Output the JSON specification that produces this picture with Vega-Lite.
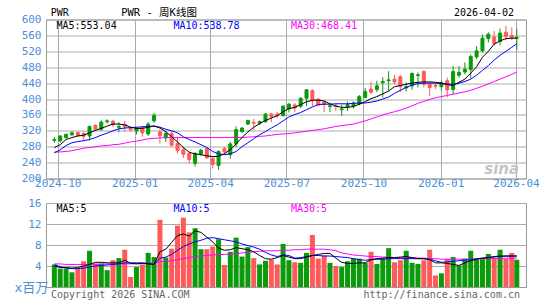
{
  "$schema": "https://vega.github.io/schema/vega-lite/v6.json",
  "padding": {"left": 13, "top": 6.5, "right": 0, "bottom": 0},
  "background": "white",
  "spacing": 24.5,
  "bounds": "flush",
  "config": {
    "view": {"stroke": "#999999", "strokeWidth": 1}
  },
  "datasets": {
    "k": [
      {"d":"2024-09-27","o":296,"h":305,"l":290,"c":298,"v":4.3,"m5":278,"m10":265,"m30":266,"v5":4.0,"v10":4.2,"v30":4.4},
      {"d":"2024-10-04","o":295,"h":308,"l":290,"c":307,"v":3.5,"m5":285,"m10":272,"m30":267,"v5":3.7,"v10":3.9,"v30":4.4},
      {"d":"2024-10-11","o":303,"h":313,"l":300,"c":311,"v":3.5,"m5":298,"m10":283,"m30":268,"v5":3.7,"v10":3.6,"v30":4.3},
      {"d":"2024-10-18","o":310,"h":318,"l":307,"c":315,"v":2.8,"m5":303,"m10":290,"m30":270,"v5":3.6,"v10":3.5,"v30":4.3},
      {"d":"2024-10-25","o":316,"h":318,"l":305,"c":308,"v":3.5,"m5":307,"m10":293,"m30":273,"v5":3.7,"v10":3.5,"v30":4.3},
      {"d":"2024-11-01","o":313,"h":318,"l":296,"c":306,"v":4.9,"m5":309,"m10":295,"m30":276,"v5":4.0,"v10":3.6,"v30":4.3},
      {"d":"2024-11-08","o":307,"h":333,"l":296,"c":331,"v":6.9,"m5":315,"m10":298,"m30":278,"v5":4.3,"v10":3.8,"v30":4.3},
      {"d":"2024-11-15","o":334,"h":336,"l":320,"c":324,"v":4.5,"m5":321,"m10":303,"m30":280,"v5":4.7,"v10":4.0,"v30":4.3},
      {"d":"2024-11-22","o":324,"h":346,"l":320,"c":342,"v":4.5,"m5":326,"m10":309,"m30":282,"v5":4.7,"v10":4.1,"v30":4.3},
      {"d":"2024-11-29","o":343,"h":349,"l":338,"c":345,"v":3.2,"m5":332,"m10":314,"m30":283,"v5":4.6,"v10":4.2,"v30":4.4},
      {"d":"2024-12-06","o":344,"h":347,"l":330,"c":335,"v":5.1,"m5":337,"m10":320,"m30":285,"v5":4.6,"v10":4.3,"v30":4.4},
      {"d":"2024-12-13","o":329,"h":342,"l":316,"c":331,"v":5.5,"m5":337,"m10":325,"m30":286,"v5":4.6,"v10":4.4,"v30":4.4},
      {"d":"2024-12-20","o":336,"h":345,"l":319,"c":330,"v":7.1,"m5":335,"m10":327,"m30":289,"v5":5.1,"v10":4.6,"v30":4.4},
      {"d":"2024-12-27","o":326,"h":330,"l":318,"c":323,"v":1.9,"m5":329,"m10":328,"m30":292,"v5":4.5,"v10":4.6,"v30":4.4},
      {"d":"2025-01-03","o":320,"h":329,"l":311,"c":327,"v":3.8,"m5":326,"m10":329,"m30":294,"v5":4.4,"v10":4.6,"v30":4.5},
      {"d":"2025-01-10","o":328,"h":332,"l":305,"c":315,"v":4.3,"m5":326,"m10":330,"m30":297,"v5":4.5,"v10":4.6,"v30":4.5},
      {"d":"2025-01-17","o":312,"h":342,"l":307,"c":337,"v":6.5,"m5":329,"m10":331,"m30":300,"v5":4.4,"v10":4.5,"v30":4.5},
      {"d":"2025-01-24","o":345,"h":365,"l":340,"c":359,"v":5.7,"m5":332,"m10":332,"m30":301,"v5":4.3,"v10":4.3,"v30":4.6},
      {"d":"2025-01-31","o":317,"h":323,"l":288,"c":307,"v":12.8,"m5":327,"m10":329,"m30":302,"v5":6.7,"v10":5.5,"v30":4.8},
      {"d":"2025-02-07","o":302,"h":320,"l":292,"c":313,"v":5.6,"m5":318,"m10":324,"m30":303,"v5":7.2,"v10":5.7,"v30":4.9},
      {"d":"2025-02-14","o":313,"h":319,"l":280,"c":284,"v":7.3,"m5":305,"m10":320,"m30":303,"v5":8.5,"v10":6.2,"v30":5.0},
      {"d":"2025-02-21","o":288,"h":305,"l":263,"c":270,"v":11.7,"m5":292,"m10":315,"m30":303,"v5":9.8,"v10":7.0,"v30":5.2},
      {"d":"2025-02-28","o":272,"h":280,"l":252,"c":261,"v":13.2,"m5":278,"m10":305,"m30":303,"v5":10.1,"v10":7.7,"v30":5.4},
      {"d":"2025-03-07","o":263,"h":266,"l":238,"c":248,"v":10.4,"m5":266,"m10":298,"m30":303,"v5":9.7,"v10":8.2,"v30":5.6},
      {"d":"2025-03-14","o":238,"h":266,"l":230,"c":263,"v":11.2,"m5":262,"m10":292,"m30":303,"v5":10.7,"v10":8.6,"v30":5.8},
      {"d":"2025-03-21","o":262,"h":275,"l":257,"c":271,"v":7.2,"m5":260,"m10":285,"m30":303,"v5":10.4,"v10":8.9,"v30":5.9},
      {"d":"2025-03-28","o":275,"h":279,"l":250,"c":252,"v":7.2,"m5":257,"m10":278,"m30":303,"v5":9.5,"v10":9.3,"v30":6.0},
      {"d":"2025-04-04","o":250,"h":257,"l":225,"c":235,"v":7.7,"m5":255,"m10":268,"m30":303,"v5":8.6,"v10":9.4,"v30":6.1},
      {"d":"2025-04-11","o":233,"h":271,"l":222,"c":268,"v":9.1,"m5":256,"m10":262,"m30":303,"v5":7.4,"v10":9.2,"v30":6.2},
      {"d":"2025-04-18","o":275,"h":279,"l":260,"c":267,"v":4.2,"m5":262,"m10":260,"m30":303,"v5":7.0,"v10":9.0,"v30":6.2},
      {"d":"2025-04-25","o":260,"h":292,"l":250,"c":287,"v":6.7,"m5":273,"m10":262,"m30":303,"v5":7.1,"v10":8.8,"v30":6.3},
      {"d":"2025-05-02","o":287,"h":331,"l":279,"c":323,"v":9.4,"m5":287,"m10":268,"m30":303,"v5":7.5,"v10":8.6,"v30":6.3},
      {"d":"2025-05-09","o":318,"h":329,"l":315,"c":327,"v":5.8,"m5":303,"m10":280,"m30":303,"v5":7.3,"v10":8.2,"v30":6.5},
      {"d":"2025-05-16","o":337,"h":348,"l":334,"c":346,"v":7.6,"m5":317,"m10":290,"m30":304,"v5":7.1,"v10":7.9,"v30":6.6},
      {"d":"2025-05-23","o":341,"h":350,"l":321,"c":339,"v":5.5,"m5":329,"m10":300,"m30":305,"v5":6.7,"v10":7.6,"v30":6.7},
      {"d":"2025-05-30","o":339,"h":346,"l":335,"c":343,"v":4.3,"m5":338,"m10":310,"m30":306,"v5":6.0,"v10":7.2,"v30":6.8},
      {"d":"2025-06-06","o":343,"h":365,"l":340,"c":362,"v":5.0,"m5":346,"m10":318,"m30":307,"v5":5.4,"v10":6.6,"v30":6.9},
      {"d":"2025-06-13","o":362,"h":365,"l":342,"c":355,"v":5.2,"m5":352,"m10":327,"m30":309,"v5":5.3,"v10":6.1,"v30":6.9},
      {"d":"2025-06-20","o":362,"h":367,"l":352,"c":358,"v":4.3,"m5":358,"m10":335,"m30":311,"v5":5.6,"v10":5.8,"v30":6.9},
      {"d":"2025-06-27","o":358,"h":384,"l":356,"c":382,"v":8.2,"m5":368,"m10":345,"m30":312,"v5":6.0,"v10":6.1,"v30":7.0},
      {"d":"2025-07-04","o":375,"h":390,"l":366,"c":387,"v":5.1,"m5":376,"m10":355,"m30":313,"v5":5.7,"v10":6.0,"v30":7.0},
      {"d":"2025-07-11","o":385,"h":390,"l":367,"c":377,"v":4.7,"m5":379,"m10":361,"m30":315,"v5":5.4,"v10":5.5,"v30":7.1},
      {"d":"2025-07-18","o":382,"h":404,"l":377,"c":402,"v":4.6,"m5":386,"m10":366,"m30":317,"v5":5.4,"v10":5.6,"v30":7.1},
      {"d":"2025-07-25","o":402,"h":425,"l":382,"c":423,"v":6.5,"m5":393,"m10":373,"m30":319,"v5":5.7,"v10":5.8,"v30":7.2},
      {"d":"2025-08-01","o":421,"h":425,"l":382,"c":396,"v":9.9,"m5":397,"m10":380,"m30":321,"v5":6.0,"v10":6.0,"v30":7.2},
      {"d":"2025-08-08","o":400,"h":402,"l":382,"c":385,"v":5.4,"m5":397,"m10":386,"m30":323,"v5":6.2,"v10":6.0,"v30":7.2},
      {"d":"2025-08-15","o":392,"h":396,"l":367,"c":386,"v":6.0,"m5":395,"m10":387,"m30":325,"v5":6.4,"v10":5.9,"v30":7.2},
      {"d":"2025-08-22","o":381,"h":388,"l":367,"c":383,"v":4.6,"m5":388,"m10":387,"m30":328,"v5":6.4,"v10":5.9,"v30":7.1},
      {"d":"2025-08-29","o":383,"h":388,"l":370,"c":381,"v":4.0,"m5":382,"m10":388,"m30":331,"v5":5.5,"v10":5.8,"v30":6.9},
      {"d":"2025-09-05","o":373,"h":386,"l":358,"c":375,"v":3.8,"m5":379,"m10":388,"m30":333,"v5":4.7,"v10":5.7,"v30":6.5},
      {"d":"2025-09-12","o":380,"h":394,"l":370,"c":386,"v":4.9,"m5":379,"m10":388,"m30":335,"v5":4.5,"v10":5.6,"v30":6.3},
      {"d":"2025-09-19","o":382,"h":394,"l":376,"c":390,"v":5.4,"m5":381,"m10":389,"m30":337,"v5":4.5,"v10":5.4,"v30":6.1},
      {"d":"2025-09-26","o":388,"h":410,"l":384,"c":406,"v":5.4,"m5":387,"m10":390,"m30":341,"v5":4.6,"v10":5.2,"v30":6.0},
      {"d":"2025-10-03","o":404,"h":428,"l":402,"c":419,"v":4.6,"m5":393,"m10":390,"m30":345,"v5":4.6,"v10":5.1,"v30":5.9},
      {"d":"2025-10-10","o":425,"h":443,"l":413,"c":417,"v":6.7,"m5":401,"m10":392,"m30":350,"v5":5.2,"v10":5.2,"v30":5.8},
      {"d":"2025-10-17","o":424,"h":446,"l":417,"c":433,"v":4.4,"m5":406,"m10":395,"m30":355,"v5":5.4,"v10":5.3,"v30":5.8},
      {"d":"2025-10-24","o":441,"h":455,"l":404,"c":444,"v":5.4,"m5":413,"m10":400,"m30":360,"v5":5.5,"v10":5.3,"v30":5.7},
      {"d":"2025-10-31","o":446,"h":470,"l":421,"c":448,"v":7.4,"m5":420,"m10":405,"m30":364,"v5":5.6,"v10":5.4,"v30":5.7},
      {"d":"2025-11-07","o":450,"h":460,"l":437,"c":443,"v":4.7,"m5":431,"m10":414,"m30":368,"v5":5.6,"v10":5.4,"v30":5.6},
      {"d":"2025-11-14","o":456,"h":460,"l":417,"c":431,"v":5.1,"m5":434,"m10":422,"m30":372,"v5":5.7,"v10":5.4,"v30":5.6},
      {"d":"2025-11-21","o":428,"h":442,"l":419,"c":431,"v":6.9,"m5":437,"m10":429,"m30":377,"v5":5.8,"v10":5.4,"v30":5.6},
      {"d":"2025-11-28","o":433,"h":467,"l":423,"c":464,"v":4.6,"m5":440,"m10":435,"m30":383,"v5":5.6,"v10":5.4,"v30":5.6},
      {"d":"2025-12-05","o":459,"h":467,"l":429,"c":461,"v":4.4,"m5":442,"m10":439,"m30":389,"v5":5.4,"v10":5.4,"v30":5.5},
      {"d":"2025-12-12","o":469,"h":472,"l":429,"c":437,"v":5.1,"m5":443,"m10":440,"m30":394,"v5":5.4,"v10":5.4,"v30":5.5},
      {"d":"2025-12-19","o":437,"h":442,"l":408,"c":429,"v":7.1,"m5":443,"m10":440,"m30":399,"v5":5.2,"v10":5.3,"v30":5.4},
      {"d":"2025-12-26","o":434,"h":442,"l":425,"c":432,"v":2.2,"m5":442,"m10":440,"m30":403,"v5":4.6,"v10":5.0,"v30":5.4},
      {"d":"2026-01-02","o":431,"h":446,"l":421,"c":441,"v":2.6,"m5":440,"m10":439,"m30":406,"v5":4.6,"v10":4.7,"v30":5.3},
      {"d":"2026-01-09","o":446,"h":454,"l":404,"c":423,"v":5.3,"m5":436,"m10":438,"m30":409,"v5":4.5,"v10":4.8,"v30":5.3},
      {"d":"2026-01-16","o":424,"h":483,"l":412,"c":469,"v":5.7,"m5":434,"m10":437,"m30":412,"v5":4.3,"v10":4.9,"v30":5.3},
      {"d":"2026-01-23","o":460,"h":483,"l":454,"c":467,"v":4.1,"m5":442,"m10":440,"m30":415,"v5":4.1,"v10":5.0,"v30":5.3},
      {"d":"2026-01-30","o":468,"h":492,"l":462,"c":475,"v":5.4,"m5":450,"m10":444,"m30":418,"v5":4.6,"v10":5.1,"v30":5.3},
      {"d":"2026-02-06","o":474,"h":512,"l":452,"c":507,"v":6.9,"m5":465,"m10":450,"m30":422,"v5":5.0,"v10":5.2,"v30":5.3},
      {"d":"2026-02-13","o":506,"h":533,"l":500,"c":521,"v":5.3,"m5":481,"m10":460,"m30":427,"v5":5.3,"v10":5.4,"v30":5.3},
      {"d":"2026-02-20","o":521,"h":562,"l":517,"c":553,"v":5.3,"m5":505,"m10":472,"m30":432,"v5":5.5,"v10":5.5,"v30":5.4},
      {"d":"2026-02-27","o":552,"h":568,"l":542,"c":563,"v":6.3,"m5":520,"m10":484,"m30":438,"v5":5.6,"v10":5.6,"v30":5.4},
      {"d":"2026-03-06","o":556,"h":571,"l":535,"c":540,"v":5.5,"m5":538,"m10":498,"m30":444,"v5":5.8,"v10":5.7,"v30":5.4},
      {"d":"2026-03-13","o":545,"h":577,"l":535,"c":566,"v":7.1,"m5":546,"m10":510,"m30":450,"v5":5.9,"v10":5.8,"v30":5.4},
      {"d":"2026-03-20","o":568,"h":584,"l":548,"c":557,"v":5.4,"m5":552,"m10":520,"m30":456,"v5":5.9,"v10":5.9,"v30":5.5},
      {"d":"2026-03-27","o":560,"h":580,"l":548,"c":554,"v":6.5,"m5":553,"m10":530,"m30":462,"v5":5.9,"v10":5.9,"v30":5.5},
      {"d":"2026-04-02","o":553,"h":577,"l":523,"c":555,"v":5.2,"m5":553,"m10":539,"m30":468,"v5":5.9,"v10":5.9,"v30":5.5}
    ]
  },
  "vconcat": [
    {
      "width": 480,
      "height": 159,
      "layer": [
        {
          "data": {"name": "k"},
          "mark": {"type": "rule", "strokeWidth": 1},
          "encoding": {
            "x": {"field": "d", "type": "temporal", "scale": {"type": "utc", "domain": [{"year":2024,"month":9,"date":23,"utc":true}, {"year":2026,"month":4,"date":7,"utc":true}]}, "axis": {"values": [{"year":2024,"month":10,"date":1,"utc":true},{"year":2025,"month":1,"date":1,"utc":true},{"year":2025,"month":4,"date":1,"utc":true},{"year":2025,"month":7,"date":1,"utc":true},{"year":2025,"month":10,"date":1,"utc":true},{"year":2026,"month":1,"date":1,"utc":true},{"year":2026,"month":4,"date":1,"utc":true}], "format": "%Y-%m", "grid": true, "gridColor": "#aaaaaa", "ticks": false, "domain": false, "labelFlush": false, "labelOverlap": false, "labelPadding": 5, "labelBaseline": "middle", "labelFont": "DejaVu Sans Mono", "labelFontSize": 11, "labelColor": "#4a90d9", "title": null}},
            "y": {"field": "l", "type": "quantitative", "scale": {"domain": [200, 600], "nice": false, "zero": false}, "axis": {"values": [200,240,280,320,360,400,440,480,520,560,600], "grid": true, "gridColor": "#aaaaaa", "ticks": false, "domain": false, "labelOverlap": false, "labelPadding": 5, "labelFont": "DejaVu Sans Mono", "labelFontSize": 11, "labelColor": "#4a90d9", "title": null}},
            "y2": {"field": "h"},
            "color": {"condition": {"test": "datum.c >= datum.o", "value": "#0a9a0a"}, "value": "#ff5a5a"}
          }
        },
        {
          "data": {"name": "k"},
          "mark": {"type": "bar", "size": 3, "strokeWidth": 1},
          "encoding": {
            "x": {"field": "d", "type": "temporal", "scale": {"type": "utc", "domain": [{"year":2024,"month":9,"date":23,"utc":true}, {"year":2026,"month":4,"date":7,"utc":true}]}, "axis": {"values": [{"year":2024,"month":10,"date":1,"utc":true},{"year":2025,"month":1,"date":1,"utc":true},{"year":2025,"month":4,"date":1,"utc":true},{"year":2025,"month":7,"date":1,"utc":true},{"year":2025,"month":10,"date":1,"utc":true},{"year":2026,"month":1,"date":1,"utc":true},{"year":2026,"month":4,"date":1,"utc":true}], "format": "%Y-%m", "grid": true, "gridColor": "#aaaaaa", "ticks": false, "domain": false, "labelFlush": false, "labelOverlap": false, "labelPadding": 5, "labelBaseline": "middle", "labelFont": "DejaVu Sans Mono", "labelFontSize": 11, "labelColor": "#4a90d9", "title": null}},
            "y": {"field": "o", "type": "quantitative", "scale": {"domain": [200, 600], "nice": false, "zero": false}, "axis": {"values": [200,240,280,320,360,400,440,480,520,560,600], "grid": true, "gridColor": "#aaaaaa", "ticks": false, "domain": false, "labelOverlap": false, "labelPadding": 5, "labelFont": "DejaVu Sans Mono", "labelFontSize": 11, "labelColor": "#4a90d9", "title": null}},
            "y2": {"field": "c"},
            "color": {"condition": {"test": "datum.c >= datum.o", "value": "#0a9a0a"}, "value": "#ff5a5a"},
            "stroke": {"condition": {"test": "datum.c >= datum.o", "value": "#0a9a0a"}, "value": "#ff5a5a"}
          }
        },
        {
          "data": {"name": "k"},
          "mark": {"type": "line", "color": "#ff00ff", "strokeWidth": 1},
          "encoding": {
            "x": {"field": "d", "type": "temporal", "scale": {"type": "utc", "domain": [{"year":2024,"month":9,"date":23,"utc":true}, {"year":2026,"month":4,"date":7,"utc":true}]}, "axis": {"values": [{"year":2024,"month":10,"date":1,"utc":true},{"year":2025,"month":1,"date":1,"utc":true},{"year":2025,"month":4,"date":1,"utc":true},{"year":2025,"month":7,"date":1,"utc":true},{"year":2025,"month":10,"date":1,"utc":true},{"year":2026,"month":1,"date":1,"utc":true},{"year":2026,"month":4,"date":1,"utc":true}], "format": "%Y-%m", "grid": true, "gridColor": "#aaaaaa", "ticks": false, "domain": false, "labelFlush": false, "labelOverlap": false, "labelPadding": 5, "labelBaseline": "middle", "labelFont": "DejaVu Sans Mono", "labelFontSize": 11, "labelColor": "#4a90d9", "title": null}},
            "y": {"field": "m30", "type": "quantitative", "scale": {"domain": [200, 600], "nice": false, "zero": false}, "axis": {"values": [200,240,280,320,360,400,440,480,520,560,600], "grid": true, "gridColor": "#aaaaaa", "ticks": false, "domain": false, "labelOverlap": false, "labelPadding": 5, "labelFont": "DejaVu Sans Mono", "labelFontSize": 11, "labelColor": "#4a90d9", "title": null}}
          }
        },
        {
          "data": {"name": "k"},
          "mark": {"type": "line", "color": "#0000ff", "strokeWidth": 1},
          "encoding": {
            "x": {"field": "d", "type": "temporal", "scale": {"type": "utc", "domain": [{"year":2024,"month":9,"date":23,"utc":true}, {"year":2026,"month":4,"date":7,"utc":true}]}, "axis": {"values": [{"year":2024,"month":10,"date":1,"utc":true},{"year":2025,"month":1,"date":1,"utc":true},{"year":2025,"month":4,"date":1,"utc":true},{"year":2025,"month":7,"date":1,"utc":true},{"year":2025,"month":10,"date":1,"utc":true},{"year":2026,"month":1,"date":1,"utc":true},{"year":2026,"month":4,"date":1,"utc":true}], "format": "%Y-%m", "grid": true, "gridColor": "#aaaaaa", "ticks": false, "domain": false, "labelFlush": false, "labelOverlap": false, "labelPadding": 5, "labelBaseline": "middle", "labelFont": "DejaVu Sans Mono", "labelFontSize": 11, "labelColor": "#4a90d9", "title": null}},
            "y": {"field": "m10", "type": "quantitative", "scale": {"domain": [200, 600], "nice": false, "zero": false}, "axis": {"values": [200,240,280,320,360,400,440,480,520,560,600], "grid": true, "gridColor": "#aaaaaa", "ticks": false, "domain": false, "labelOverlap": false, "labelPadding": 5, "labelFont": "DejaVu Sans Mono", "labelFontSize": 11, "labelColor": "#4a90d9", "title": null}}
          }
        },
        {
          "data": {"name": "k"},
          "mark": {"type": "line", "color": "#000000", "strokeWidth": 1},
          "encoding": {
            "x": {"field": "d", "type": "temporal", "scale": {"type": "utc", "domain": [{"year":2024,"month":9,"date":23,"utc":true}, {"year":2026,"month":4,"date":7,"utc":true}]}, "axis": {"values": [{"year":2024,"month":10,"date":1,"utc":true},{"year":2025,"month":1,"date":1,"utc":true},{"year":2025,"month":4,"date":1,"utc":true},{"year":2025,"month":7,"date":1,"utc":true},{"year":2025,"month":10,"date":1,"utc":true},{"year":2026,"month":1,"date":1,"utc":true},{"year":2026,"month":4,"date":1,"utc":true}], "format": "%Y-%m", "grid": true, "gridColor": "#aaaaaa", "ticks": false, "domain": false, "labelFlush": false, "labelOverlap": false, "labelPadding": 5, "labelBaseline": "middle", "labelFont": "DejaVu Sans Mono", "labelFontSize": 11, "labelColor": "#4a90d9", "title": null}},
            "y": {"field": "m5", "type": "quantitative", "scale": {"domain": [200, 600], "nice": false, "zero": false}, "axis": {"values": [200,240,280,320,360,400,440,480,520,560,600], "grid": true, "gridColor": "#aaaaaa", "ticks": false, "domain": false, "labelOverlap": false, "labelPadding": 5, "labelFont": "DejaVu Sans Mono", "labelFontSize": 11, "labelColor": "#4a90d9", "title": null}}
          }
        },
        {
          "data": {"values": [{"t": "MA5:553.04", "g": "MA5", "p": "left"}, {"t": "MA10:538.78", "g": "MA10", "p": "mid"}, {"t": "MA30:468.41", "g": "MA30", "p": "right"}, {"t": "PWR", "g": "title", "p": "tl"}, {"t": "PWR - 周K线图", "g": "title", "p": "tc"}, {"t": "2026-04-02", "g": "title", "p": "tr"}]},
          "transform": [{"filter": "datum.p == 'left'"}],
          "mark": {"type": "text", "align": "left", "baseline": "middle", "font": "DejaVu Sans Mono", "fontSize": 10, "color": "#000000"},
          "encoding": {
            "text": {"field": "t"},
            "x": {"datum": {"year":2024,"month":9,"date":29,"hours":12,"utc":true}, "type": "temporal", "scale": {"type": "utc", "domain": [{"year":2024,"month":9,"date":23,"utc":true}, {"year":2026,"month":4,"date":7,"utc":true}]}, "axis": {"values": [{"year":2024,"month":10,"date":1,"utc":true},{"year":2025,"month":1,"date":1,"utc":true},{"year":2025,"month":4,"date":1,"utc":true},{"year":2025,"month":7,"date":1,"utc":true},{"year":2025,"month":10,"date":1,"utc":true},{"year":2026,"month":1,"date":1,"utc":true},{"year":2026,"month":4,"date":1,"utc":true}], "format": "%Y-%m", "grid": true, "gridColor": "#aaaaaa", "ticks": false, "domain": false, "labelFlush": false, "labelOverlap": false, "labelPadding": 5, "labelBaseline": "middle", "labelFont": "DejaVu Sans Mono", "labelFontSize": 11, "labelColor": "#4a90d9", "title": null}},
            "y": {"datum": 583, "type": "quantitative", "scale": {"domain": [200, 600], "nice": false, "zero": false}, "axis": {"values": [200,240,280,320,360,400,440,480,520,560,600], "grid": true, "gridColor": "#aaaaaa", "ticks": false, "domain": false, "labelOverlap": false, "labelPadding": 5, "labelFont": "DejaVu Sans Mono", "labelFontSize": 11, "labelColor": "#4a90d9", "title": null}}
          }
        },
        {
          "data": {"values": [{"t": "MA10:538.78"}]},
          "mark": {"type": "text", "align": "left", "baseline": "middle", "font": "DejaVu Sans Mono", "fontSize": 10, "color": "#0000ff"},
          "encoding": {
            "text": {"field": "t"},
            "x": {"datum": {"year":2025,"month":2,"date":16,"hours":2,"utc":true}, "type": "temporal", "scale": {"type": "utc", "domain": [{"year":2024,"month":9,"date":23,"utc":true}, {"year":2026,"month":4,"date":7,"utc":true}]}, "axis": {"values": [{"year":2024,"month":10,"date":1,"utc":true},{"year":2025,"month":1,"date":1,"utc":true},{"year":2025,"month":4,"date":1,"utc":true},{"year":2025,"month":7,"date":1,"utc":true},{"year":2025,"month":10,"date":1,"utc":true},{"year":2026,"month":1,"date":1,"utc":true},{"year":2026,"month":4,"date":1,"utc":true}], "format": "%Y-%m", "grid": true, "gridColor": "#aaaaaa", "ticks": false, "domain": false, "labelFlush": false, "labelOverlap": false, "labelPadding": 5, "labelBaseline": "middle", "labelFont": "DejaVu Sans Mono", "labelFontSize": 11, "labelColor": "#4a90d9", "title": null}},
            "y": {"datum": 583, "type": "quantitative", "scale": {"domain": [200, 600], "nice": false, "zero": false}, "axis": {"values": [200,240,280,320,360,400,440,480,520,560,600], "grid": true, "gridColor": "#aaaaaa", "ticks": false, "domain": false, "labelOverlap": false, "labelPadding": 5, "labelFont": "DejaVu Sans Mono", "labelFontSize": 11, "labelColor": "#4a90d9", "title": null}}
          }
        },
        {
          "data": {"values": [{"t": "MA30:468.41"}]},
          "mark": {"type": "text", "align": "left", "baseline": "middle", "font": "DejaVu Sans Mono", "fontSize": 10, "color": "#ff00ff"},
          "encoding": {
            "text": {"field": "t"},
            "x": {"datum": {"year":2025,"month":7,"date":6,"hours":9,"utc":true}, "type": "temporal", "scale": {"type": "utc", "domain": [{"year":2024,"month":9,"date":23,"utc":true}, {"year":2026,"month":4,"date":7,"utc":true}]}, "axis": {"values": [{"year":2024,"month":10,"date":1,"utc":true},{"year":2025,"month":1,"date":1,"utc":true},{"year":2025,"month":4,"date":1,"utc":true},{"year":2025,"month":7,"date":1,"utc":true},{"year":2025,"month":10,"date":1,"utc":true},{"year":2026,"month":1,"date":1,"utc":true},{"year":2026,"month":4,"date":1,"utc":true}], "format": "%Y-%m", "grid": true, "gridColor": "#aaaaaa", "ticks": false, "domain": false, "labelFlush": false, "labelOverlap": false, "labelPadding": 5, "labelBaseline": "middle", "labelFont": "DejaVu Sans Mono", "labelFontSize": 11, "labelColor": "#4a90d9", "title": null}},
            "y": {"datum": 583, "type": "quantitative", "scale": {"domain": [200, 600], "nice": false, "zero": false}, "axis": {"values": [200,240,280,320,360,400,440,480,520,560,600], "grid": true, "gridColor": "#aaaaaa", "ticks": false, "domain": false, "labelOverlap": false, "labelPadding": 5, "labelFont": "DejaVu Sans Mono", "labelFontSize": 11, "labelColor": "#4a90d9", "title": null}}
          }
        },
        {
          "data": {"values": [{"t": "PWR"}]},
          "mark": {"type": "text", "align": "left", "baseline": "middle", "font": "DejaVu Sans Mono", "fontSize": 10, "color": "#000000"},
          "encoding": {
            "text": {"field": "t"},
            "x": {"datum": {"year":2024,"month":9,"date":22,"hours":16,"utc":true}, "type": "temporal", "scale": {"type": "utc", "domain": [{"year":2024,"month":9,"date":23,"utc":true}, {"year":2026,"month":4,"date":7,"utc":true}]}, "axis": {"values": [{"year":2024,"month":10,"date":1,"utc":true},{"year":2025,"month":1,"date":1,"utc":true},{"year":2025,"month":4,"date":1,"utc":true},{"year":2025,"month":7,"date":1,"utc":true},{"year":2025,"month":10,"date":1,"utc":true},{"year":2026,"month":1,"date":1,"utc":true},{"year":2026,"month":4,"date":1,"utc":true}], "format": "%Y-%m", "grid": true, "gridColor": "#aaaaaa", "ticks": false, "domain": false, "labelFlush": false, "labelOverlap": false, "labelPadding": 5, "labelBaseline": "middle", "labelFont": "DejaVu Sans Mono", "labelFontSize": 11, "labelColor": "#4a90d9", "title": null}},
            "y": {"datum": 616.4, "type": "quantitative", "scale": {"domain": [200, 600], "nice": false, "zero": false}, "axis": {"values": [200,240,280,320,360,400,440,480,520,560,600], "grid": true, "gridColor": "#aaaaaa", "ticks": false, "domain": false, "labelOverlap": false, "labelPadding": 5, "labelFont": "DejaVu Sans Mono", "labelFontSize": 11, "labelColor": "#4a90d9", "title": null}}
          }
        },
        {
          "data": {"values": [{"t": "PWR - 周K线图"}]},
          "mark": {"type": "text", "align": "left", "baseline": "middle", "font": "DejaVu Sans Mono, Noto Sans CJK SC", "fontSize": 10.5, "color": "#000000"},
          "encoding": {
            "text": {"field": "t"},
            "x": {"datum": {"year":2024,"month":12,"date":15,"hours":17,"utc":true}, "type": "temporal", "scale": {"type": "utc", "domain": [{"year":2024,"month":9,"date":23,"utc":true}, {"year":2026,"month":4,"date":7,"utc":true}]}, "axis": {"values": [{"year":2024,"month":10,"date":1,"utc":true},{"year":2025,"month":1,"date":1,"utc":true},{"year":2025,"month":4,"date":1,"utc":true},{"year":2025,"month":7,"date":1,"utc":true},{"year":2025,"month":10,"date":1,"utc":true},{"year":2026,"month":1,"date":1,"utc":true},{"year":2026,"month":4,"date":1,"utc":true}], "format": "%Y-%m", "grid": true, "gridColor": "#aaaaaa", "ticks": false, "domain": false, "labelFlush": false, "labelOverlap": false, "labelPadding": 5, "labelBaseline": "middle", "labelFont": "DejaVu Sans Mono", "labelFontSize": 11, "labelColor": "#4a90d9", "title": null}},
            "y": {"datum": 616.4, "type": "quantitative", "scale": {"domain": [200, 600], "nice": false, "zero": false}, "axis": {"values": [200,240,280,320,360,400,440,480,520,560,600], "grid": true, "gridColor": "#aaaaaa", "ticks": false, "domain": false, "labelOverlap": false, "labelPadding": 5, "labelFont": "DejaVu Sans Mono", "labelFontSize": 11, "labelColor": "#4a90d9", "title": null}}
          }
        },
        {
          "data": {"values": [{"t": "2026-04-02"}]},
          "mark": {"type": "text", "align": "right", "baseline": "middle", "font": "DejaVu Sans Mono", "fontSize": 10, "color": "#000000"},
          "encoding": {
            "text": {"field": "t"},
            "x": {"datum": {"year":2026,"month":3,"date":29,"hours":19,"utc":true}, "type": "temporal", "scale": {"type": "utc", "domain": [{"year":2024,"month":9,"date":23,"utc":true}, {"year":2026,"month":4,"date":7,"utc":true}]}, "axis": {"values": [{"year":2024,"month":10,"date":1,"utc":true},{"year":2025,"month":1,"date":1,"utc":true},{"year":2025,"month":4,"date":1,"utc":true},{"year":2025,"month":7,"date":1,"utc":true},{"year":2025,"month":10,"date":1,"utc":true},{"year":2026,"month":1,"date":1,"utc":true},{"year":2026,"month":4,"date":1,"utc":true}], "format": "%Y-%m", "grid": true, "gridColor": "#aaaaaa", "ticks": false, "domain": false, "labelFlush": false, "labelOverlap": false, "labelPadding": 5, "labelBaseline": "middle", "labelFont": "DejaVu Sans Mono", "labelFontSize": 11, "labelColor": "#4a90d9", "title": null}},
            "y": {"datum": 616.4, "type": "quantitative", "scale": {"domain": [200, 600], "nice": false, "zero": false}, "axis": {"values": [200,240,280,320,360,400,440,480,520,560,600], "grid": true, "gridColor": "#aaaaaa", "ticks": false, "domain": false, "labelOverlap": false, "labelPadding": 5, "labelFont": "DejaVu Sans Mono", "labelFontSize": 11, "labelColor": "#4a90d9", "title": null}}
          }
        },
        {
          "data": {"values": [{"t": "sina"}]},
          "mark": {"type": "text", "align": "right", "baseline": "middle", "font": "DejaVu Sans", "fontSize": 15, "fontStyle": "italic", "fontWeight": "bold", "color": "#c4c4c4"},
          "encoding": {
            "text": {"field": "t"},
            "x": {"datum": {"year":2026,"month":4,"date":4,"hours":17,"utc":true}, "type": "temporal", "scale": {"type": "utc", "domain": [{"year":2024,"month":9,"date":23,"utc":true}, {"year":2026,"month":4,"date":7,"utc":true}]}, "axis": {"values": [{"year":2024,"month":10,"date":1,"utc":true},{"year":2025,"month":1,"date":1,"utc":true},{"year":2025,"month":4,"date":1,"utc":true},{"year":2025,"month":7,"date":1,"utc":true},{"year":2025,"month":10,"date":1,"utc":true},{"year":2026,"month":1,"date":1,"utc":true},{"year":2026,"month":4,"date":1,"utc":true}], "format": "%Y-%m", "grid": true, "gridColor": "#aaaaaa", "ticks": false, "domain": false, "labelFlush": false, "labelOverlap": false, "labelPadding": 5, "labelBaseline": "middle", "labelFont": "DejaVu Sans Mono", "labelFontSize": 11, "labelColor": "#4a90d9", "title": null}},
            "y": {"datum": 225, "type": "quantitative", "scale": {"domain": [200, 600], "nice": false, "zero": false}, "axis": {"values": [200,240,280,320,360,400,440,480,520,560,600], "grid": true, "gridColor": "#aaaaaa", "ticks": false, "domain": false, "labelOverlap": false, "labelPadding": 5, "labelFont": "DejaVu Sans Mono", "labelFontSize": 11, "labelColor": "#4a90d9", "title": null}}
          }
        }
      ]
    },
    {
      "width": 480,
      "height": 84,
      "layer": [
        {
          "data": {"name": "k"},
          "mark": {"type": "bar", "size": 5},
          "encoding": {
            "x": {"field": "d", "type": "temporal", "scale": {"type": "utc", "domain": [{"year":2024,"month":9,"date":23,"utc":true}, {"year":2026,"month":4,"date":7,"utc":true}]}, "axis": null},
            "y": {"field": "v", "type": "quantitative", "scale": {"domain": [0, 16], "nice": false}, "axis": {"values": [4, 8, 12, 16], "grid": true, "gridColor": "#aaaaaa", "ticks": false, "domain": false, "labelOverlap": false, "labelPadding": 5, "labelFont": "DejaVu Sans Mono", "labelFontSize": 11, "labelColor": "#4a90d9", "title": null}},
            "color": {"condition": {"test": "datum.c >= datum.o", "value": "#0a9a0a"}, "value": "#ff5a5a"}
          }
        },
        {
          "data": {"name": "k"},
          "mark": {"type": "line", "color": "#ff00ff", "strokeWidth": 1},
          "encoding": {
            "x": {"field": "d", "type": "temporal", "scale": {"type": "utc", "domain": [{"year":2024,"month":9,"date":23,"utc":true}, {"year":2026,"month":4,"date":7,"utc":true}]}, "axis": null},
            "y": {"field": "v30", "type": "quantitative", "scale": {"domain": [0, 16], "nice": false}, "axis": {"values": [4, 8, 12, 16], "grid": true, "gridColor": "#aaaaaa", "ticks": false, "domain": false, "labelOverlap": false, "labelPadding": 5, "labelFont": "DejaVu Sans Mono", "labelFontSize": 11, "labelColor": "#4a90d9", "title": null}}
          }
        },
        {
          "data": {"name": "k"},
          "mark": {"type": "line", "color": "#0000ff", "strokeWidth": 1},
          "encoding": {
            "x": {"field": "d", "type": "temporal", "scale": {"type": "utc", "domain": [{"year":2024,"month":9,"date":23,"utc":true}, {"year":2026,"month":4,"date":7,"utc":true}]}, "axis": null},
            "y": {"field": "v10", "type": "quantitative", "scale": {"domain": [0, 16], "nice": false}, "axis": {"values": [4, 8, 12, 16], "grid": true, "gridColor": "#aaaaaa", "ticks": false, "domain": false, "labelOverlap": false, "labelPadding": 5, "labelFont": "DejaVu Sans Mono", "labelFontSize": 11, "labelColor": "#4a90d9", "title": null}}
          }
        },
        {
          "data": {"name": "k"},
          "mark": {"type": "line", "color": "#000000", "strokeWidth": 1},
          "encoding": {
            "x": {"field": "d", "type": "temporal", "scale": {"type": "utc", "domain": [{"year":2024,"month":9,"date":23,"utc":true}, {"year":2026,"month":4,"date":7,"utc":true}]}, "axis": null},
            "y": {"field": "v5", "type": "quantitative", "scale": {"domain": [0, 16], "nice": false}, "axis": {"values": [4, 8, 12, 16], "grid": true, "gridColor": "#aaaaaa", "ticks": false, "domain": false, "labelOverlap": false, "labelPadding": 5, "labelFont": "DejaVu Sans Mono", "labelFontSize": 11, "labelColor": "#4a90d9", "title": null}}
          }
        },
        {
          "data": {"values": [{"t": "MA5:5"}]},
          "mark": {"type": "text", "align": "left", "baseline": "middle", "font": "DejaVu Sans Mono", "fontSize": 10, "color": "#000000"},
          "encoding": {
            "text": {"field": "t"},
            "x": {"datum": {"year":2024,"month":9,"date":29,"hours":12,"utc":true}, "type": "temporal", "scale": {"type": "utc", "domain": [{"year":2024,"month":9,"date":23,"utc":true}, {"year":2026,"month":4,"date":7,"utc":true}]}, "axis": null},
            "y": {"datum": 14.9, "type": "quantitative", "scale": {"domain": [0, 16], "nice": false}, "axis": {"values": [4, 8, 12, 16], "grid": true, "gridColor": "#aaaaaa", "ticks": false, "domain": false, "labelOverlap": false, "labelPadding": 5, "labelFont": "DejaVu Sans Mono", "labelFontSize": 11, "labelColor": "#4a90d9", "title": null}}
          }
        },
        {
          "data": {"values": [{"t": "MA10:5"}]},
          "mark": {"type": "text", "align": "left", "baseline": "middle", "font": "DejaVu Sans Mono", "fontSize": 10, "color": "#0000ff"},
          "encoding": {
            "text": {"field": "t"},
            "x": {"datum": {"year":2025,"month":2,"date":16,"hours":2,"utc":true}, "type": "temporal", "scale": {"type": "utc", "domain": [{"year":2024,"month":9,"date":23,"utc":true}, {"year":2026,"month":4,"date":7,"utc":true}]}, "axis": null},
            "y": {"datum": 14.9, "type": "quantitative", "scale": {"domain": [0, 16], "nice": false}, "axis": {"values": [4, 8, 12, 16], "grid": true, "gridColor": "#aaaaaa", "ticks": false, "domain": false, "labelOverlap": false, "labelPadding": 5, "labelFont": "DejaVu Sans Mono", "labelFontSize": 11, "labelColor": "#4a90d9", "title": null}}
          }
        },
        {
          "data": {"values": [{"t": "MA30:5"}]},
          "mark": {"type": "text", "align": "left", "baseline": "middle", "font": "DejaVu Sans Mono", "fontSize": 10, "color": "#ff00ff"},
          "encoding": {
            "text": {"field": "t"},
            "x": {"datum": {"year":2025,"month":7,"date":6,"hours":9,"utc":true}, "type": "temporal", "scale": {"type": "utc", "domain": [{"year":2024,"month":9,"date":23,"utc":true}, {"year":2026,"month":4,"date":7,"utc":true}]}, "axis": null},
            "y": {"datum": 14.9, "type": "quantitative", "scale": {"domain": [0, 16], "nice": false}, "axis": {"values": [4, 8, 12, 16], "grid": true, "gridColor": "#aaaaaa", "ticks": false, "domain": false, "labelOverlap": false, "labelPadding": 5, "labelFont": "DejaVu Sans Mono", "labelFontSize": 11, "labelColor": "#4a90d9", "title": null}}
          }
        },
        {
          "data": {"values": [{"t": "x百万"}]},
          "mark": {"type": "text", "align": "left", "baseline": "middle", "font": "DejaVu Sans Mono, Noto Sans CJK SC", "fontSize": 13, "color": "#4a90d9"},
          "encoding": {
            "text": {"field": "t"},
            "x": {"datum": {"year":2024,"month":8,"date":10,"hours":10,"utc":true}, "type": "temporal", "scale": {"type": "utc", "domain": [{"year":2024,"month":9,"date":23,"utc":true}, {"year":2026,"month":4,"date":7,"utc":true}]}, "axis": null},
            "y": {"datum": -0.1, "type": "quantitative", "scale": {"domain": [0, 16], "nice": false}, "axis": {"values": [4, 8, 12, 16], "grid": true, "gridColor": "#aaaaaa", "ticks": false, "domain": false, "labelOverlap": false, "labelPadding": 5, "labelFont": "DejaVu Sans Mono", "labelFontSize": 11, "labelColor": "#4a90d9", "title": null}}
          }
        },
        {
          "data": {"values": [{"t": "Copyright 2026 SINA.COM"}]},
          "mark": {"type": "text", "align": "left", "baseline": "middle", "font": "DejaVu Sans Mono", "fontSize": 10, "color": "#666666"},
          "encoding": {
            "text": {"field": "t"},
            "x": {"datum": {"year":2024,"month":9,"date":23,"utc":true}, "type": "temporal", "scale": {"type": "utc", "domain": [{"year":2024,"month":9,"date":23,"utc":true}, {"year":2026,"month":4,"date":7,"utc":true}]}, "axis": null},
            "y": {"datum": -1.43, "type": "quantitative", "scale": {"domain": [0, 16], "nice": false}, "axis": {"values": [4, 8, 12, 16], "grid": true, "gridColor": "#aaaaaa", "ticks": false, "domain": false, "labelOverlap": false, "labelPadding": 5, "labelFont": "DejaVu Sans Mono", "labelFontSize": 11, "labelColor": "#4a90d9", "title": null}}
          }
        },
        {
          "data": {"values": [{"t": "http://finance.sina.com.cn"}]},
          "mark": {"type": "text", "align": "right", "baseline": "middle", "font": "DejaVu Sans Mono", "fontSize": 10, "color": "#666666"},
          "encoding": {
            "text": {"field": "t"},
            "x": {"datum": {"year":2026,"month":4,"date":5,"hours":19,"utc":true}, "type": "temporal", "scale": {"type": "utc", "domain": [{"year":2024,"month":9,"date":23,"utc":true}, {"year":2026,"month":4,"date":7,"utc":true}]}, "axis": null},
            "y": {"datum": -1.43, "type": "quantitative", "scale": {"domain": [0, 16], "nice": false}, "axis": {"values": [4, 8, 12, 16], "grid": true, "gridColor": "#aaaaaa", "ticks": false, "domain": false, "labelOverlap": false, "labelPadding": 5, "labelFont": "DejaVu Sans Mono", "labelFontSize": 11, "labelColor": "#4a90d9", "title": null}}
          }
        }
      ]
    }
  ]
}
